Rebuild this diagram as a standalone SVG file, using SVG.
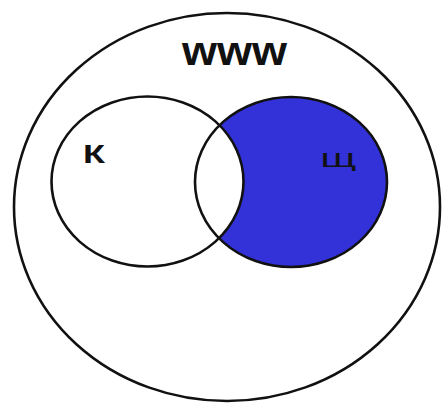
<svg xmlns="http://www.w3.org/2000/svg" width="447" height="403" viewBox="0 0 447 403">
<style>
.ln{fill:none;stroke:#111;stroke-width:2.6}
.lbl{font-family:"Liberation Sans",Arial,sans-serif;fill:#111}
</style>
<rect width="447" height="403" fill="#fff"/>
<g id="www">
<ellipse cx="227" cy="207" rx="213" ry="194" class="ln"/>
<text class="lbl" x="182" y="65" font-size="40" font-weight="bold" textLength="105" lengthAdjust="spacingAndGlyphs">www</text>
</g>
<g id="shch">
<ellipse cx="291" cy="182" rx="96" ry="85" fill="#3232d8"/>
</g>
<g id="k">
<ellipse cx="147.5" cy="181.5" rx="96" ry="85" fill="#fff"/>
<ellipse cx="147.5" cy="181.5" rx="96" ry="85" class="ln"/>
<text class="lbl" x="83" y="163" font-size="25" font-weight="bold" textLength="22" lengthAdjust="spacingAndGlyphs">К</text>
</g>
<g id="shch-outline">
<ellipse cx="291" cy="182" rx="96" ry="85" class="ln"/>
<text class="lbl" x="320" y="167" font-size="21" textLength="37" lengthAdjust="spacingAndGlyphs">Щ</text>
</g>
</svg>
